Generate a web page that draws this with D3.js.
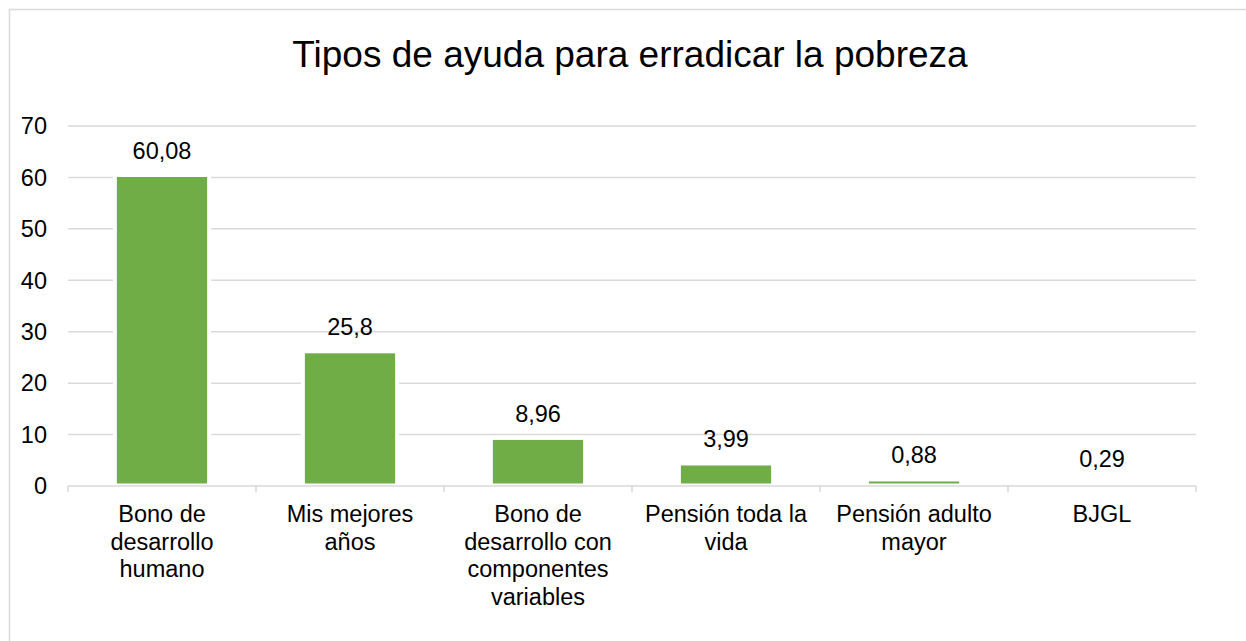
<!DOCTYPE html>
<html>
<head>
<meta charset="utf-8">
<script src="https://cdn.jsdelivr.net/npm/d3@7"></script>
<style>
  body { margin: 0; background: #fff; }
  text { font-family: Arial, "Liberation Sans", sans-serif; fill: #000; }
</style>
</head>
<body>
<div id="chart"></div>
<script>
// data
const categories = [
    "Bono de desarrollo humano",
    "Mis mejores años",
    "Bono de desarrollo con componentes variables",
    "Pensión toda la vida",
    "Pensión adulto mayor",
    "BJGL"
];
const values = [60.08, 25.8, 8.96, 3.99, 0.88, 0.29];
const valueLabels = ["60,08", "25,8", "8,96", "3,99", "0,88", "0,29"];
const yTicks = [0, 10, 20, 30, 40, 50, 60, 70];
const title = "Tipos de ayuda para erradicar la pobreza";

const width = 1246, height = 641;
const margin = { top: 126, right: 50, bottom: 155, left: 68 };

const svg = d3.select("#chart")
    .append("svg")
    .attr("width", width)
    .attr("height", height);

// chart frame
svg.append("rect")
    .attr("x", 9.5).attr("y", 9.5)
    .attr("width", width + 20).attr("height", height + 20)
    .attr("fill", "#fff")
    .attr("stroke", "#d9d9d9")
    .attr("stroke-width", 1.5);

svg.append("text")
    .attr("x", 630)
    .attr("y", 67)
    .attr("text-anchor", "middle")
    .style("font-size", "37px")
    .text(title);

const x = d3.scaleBand()
    .domain(categories)
    .range([margin.left, width - margin.right])
    .paddingInner(0.52)
    .paddingOuter(0.26);

const y = d3.scaleLinear()
    .domain([0, 70])
    .range([height - margin.bottom, margin.top]);

// gridlines
svg.append("g")
    .selectAll("line")
    .data(yTicks.filter(d => d > 0))
    .enter().append("line")
    .attr("x1", margin.left)
    .attr("x2", width - margin.right)
    .attr("y1", d => y(d))
    .attr("y2", d => y(d))
    .attr("stroke", "#d9d9d9")
    .attr("stroke-width", 1.5);

// y labels
svg.append("g")
    .selectAll("text")
    .data(yTicks)
    .enter().append("text")
    .attr("x", 47)
    .attr("y", d => y(d))
    .attr("dy", "0.35em")
    .attr("text-anchor", "end")
    .style("font-size", "23.5px")
    .text(d => d);

const bars = svg.append("g")
    .selectAll("g")
    .data(values)
    .enter().append("g");

// white halo that cuts gridlines around bars
bars.append("rect")
    .attr("x", (d, i) => x(categories[i]) - 4)
    .attr("y", d => y(d) - 4)
    .attr("width", x.bandwidth() + 8)
    .attr("height", d => y(0) - y(d) + 4)
    .attr("fill", "#fff");

// bars stop a little above the axis line (white border at the base)
bars.append("rect")
    .attr("x", (d, i) => x(categories[i]))
    .attr("y", d => y(d))
    .attr("width", x.bandwidth())
    .attr("height", d => Math.max(0, y(0) - 2.5 - y(d)))
    .attr("fill", "#70ad47");

bars.append("text")
    .attr("x", (d, i) => x(categories[i]) + x.bandwidth() / 2)
    .attr("y", d => y(d) - 18)
    .attr("text-anchor", "middle")
    .style("font-size", "23.5px")
    .text((d, i) => valueLabels[i]);

// x axis
const step = x.step();
const axis = svg.append("g");
axis.append("line")
    .attr("x1", margin.left)
    .attr("x2", width - margin.right)
    .attr("y1", y(0))
    .attr("y2", y(0))
    .attr("stroke", "#d9d9d9")
    .attr("stroke-width", 1.5);

axis.selectAll(".tick")
    .data(d3.range(categories.length + 1))
    .enter().append("line")
    .attr("class", "tick")
    .attr("x1", i => margin.left + i * step)
    .attr("x2", i => margin.left + i * step)
    .attr("y1", y(0))
    .attr("y2", y(0) + 6)
    .attr("stroke", "#d9d9d9")
    .attr("stroke-width", 1.5);

// wrapped category labels
const labels = axis.selectAll(".cat")
    .data(categories)
    .enter().append("text")
    .attr("class", "cat")
    .attr("text-anchor", "middle")
    .style("font-size", "23.5px")
    .attr("x", d => x(d) + x.bandwidth() / 2)
    .attr("y", y(0) + 36);

labels.each(function(d) {
    const text = d3.select(this);
    const cx = text.attr("x");
    const maxW = 178;
    const words = d.split(" ");
    let line = [];
    let tspan = text.append("tspan").attr("x", cx).attr("dy", 0);
    words.forEach(w => {
        line.push(w);
        tspan.text(line.join(" "));
        if (tspan.node().getComputedTextLength() > maxW && line.length > 1) {
            line.pop();
            tspan.text(line.join(" "));
            line = [w];
            tspan = text.append("tspan").attr("x", cx).attr("dy", 27.7).text(w);
        }
    });
});
</script>
</body>
</html>
